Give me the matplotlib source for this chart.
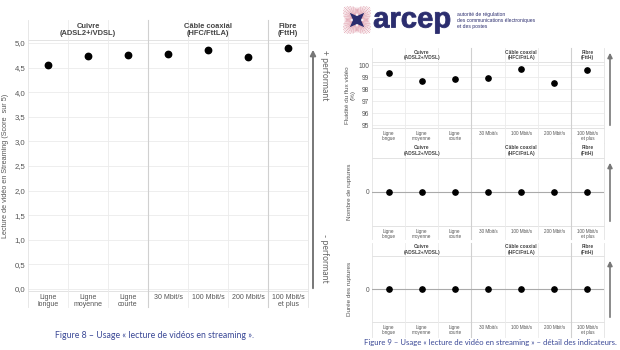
import matplotlib
matplotlib.use("Agg")
import math
import matplotlib.pyplot as plt
from matplotlib.patches import FancyArrowPatch, Polygon, PathPatch
from matplotlib.lines import Line2D
from matplotlib.textpath import TextPath
from matplotlib.font_manager import FontProperties
import matplotlib.transforms as mtransforms

W, H = 620, 350

# ---------------- data ----------------
groups = ["Cuivre\n(ADSL2+/VDSL)", "Câble coaxial\n(HFC/FttLA)", "Fibre\n(FttH)"]
group_first = [0, 3, 6]
group_last = [2, 5, 6]
categories = ["Ligne\nlongue", "Ligne\nmoyenne", "Ligne\ncourte",
              "30 Mbit/s", "100 Mbit/s", "200 Mbit/s", "100 Mbit/s\net plus"]
score = [4.55, 4.74, 4.76, 4.77, 4.85, 4.71, 4.90]
score_ticks = [0.0, 0.5, 1.0, 1.5, 2.0, 2.5, 3.0, 3.5, 4.0, 4.5, 5.0]
score_ticklabels = ["0,0", "0,5", "1,0", "1,5", "2,0", "2,5", "3,0", "3,5", "4,0", "4,5", "5,0"]
fluidite = [99.35, 98.7, 98.8, 98.9, 99.7, 98.5, 99.6]
fluidite_ticks = [95, 96, 97, 98, 99, 100]
nb_ruptures = [0, 0, 0, 0, 0, 0, 0]
duree_ruptures = [0, 0, 0, 0, 0, 0, 0]

caption8 = "Figure 8 – Usage « lecture de vidéos en streaming »."
caption9 = "Figure 9 – Usage « lecture de vidéo en streaming » – détail des indicateurs."

FONT = "Liberation Sans"
GRID = "#ebebeb"
DIV = "#d0d0d0"
TXT = "#555555"
CAPC = "#3a4896"
NAVY = "#2b2d6e"

fig = plt.figure(figsize=(W / 100, H / 100), dpi=100)
fig.patch.set_facecolor("white")


def rect(x0, y0, x1, y1):
    return [x0 / W, 1 - y1 / H, (x1 - x0) / W, (y1 - y0) / H]


def fx(x):
    return x / W


def fy(y):
    return 1 - y / H


def facet(x0, x1, strip_top, plot_top, plot_bot, lab_bot, values, ylim, yticks,
          yticklabels, ylabel, ms, tick_fs, ytick_fs, strip_fs, ylab_fs, ylab_pad,
          zero_line=False):
    ax = fig.add_axes(rect(x0, plot_top, x1, plot_bot))
    ax.set_xlim(-0.5, 6.5)
    ax.set_ylim(*ylim)
    hpx = plot_bot - plot_top
    ext_top = 1 + (plot_top - strip_top) / hpx
    ext_bot = -(lab_bot - plot_bot) / hpx
    for s in ax.spines.values():
        s.set_visible(False)
    for t in yticks:
        ax.axhline(t, color=GRID, lw=0.6, zorder=0)
    if zero_line:
        ax.axhline(0, color="#aaaaaa", lw=0.8, zorder=1)
    ax.axhline(ylim[1], color="#e3e3e3", lw=0.7, zorder=0, clip_on=False)
    ax.axhline(ylim[0], color="#e3e3e3", lw=0.7, zorder=0, clip_on=False)
    for b in [-0.5, 0.5, 1.5, 2.5, 3.5, 4.5, 5.5, 6.5]:
        col = DIV if b in (2.5, 5.5) else ("#e3e3e3" if b in (-0.5, 6.5) else GRID)
        lw = 0.8 if b in (2.5, 5.5) else 0.6
        ax.axvline(b, ymin=ext_bot, ymax=ext_top, color=col, lw=lw, zorder=0, clip_on=False)
    ax.plot(range(len(values)), values, "o", color="black", ms=ms, zorder=3, clip_on=False)
    ax.set_xticks(range(len(categories)))
    ax.set_xticklabels(categories, fontsize=tick_fs, color=TXT, family=FONT, linespacing=1.1)
    ax.set_yticks(yticks)
    ax.set_yticklabels(yticklabels, fontsize=ytick_fs, color=TXT, family=FONT)
    ax.tick_params(length=0, pad=2)
    ax.set_ylabel(ylabel, fontsize=ylab_fs, color=TXT, family=FONT, labelpad=ylab_pad,
                  linespacing=1.1)
    trans = mtransforms.blended_transform_factory(ax.transData, ax.transAxes)
    ymid = 1 + (plot_top - strip_top) / hpx / 2
    for g, a, b in zip(groups, group_first, group_last):
        ax.text((a + b) / 2, ymid, g, transform=trans, ha="center", va="center",
                fontsize=strip_fs, fontweight="bold", color="#444444", family=FONT,
                linespacing=1.15)
    return ax


# ---------- left figure ----------
facet(28, 308, 20, 40, 291, 307, score, (-0.04, 5.06), score_ticks, score_ticklabels,
      "Lecture de vidéo en Streaming (Score  sur 5)", 4.6, 5.0, 5.6, 5.4, 5.2, 4)

fig.add_artist(FancyArrowPatch((fx(313), fy(291)), (fx(313), fy(47)),
                               transform=fig.transFigure, arrowstyle="-|>",
                               mutation_scale=8, color="#777777", lw=1.4))
fig.text(fx(325), fy(50), "+ performant", rotation=-90, ha="center", va="top",
         fontsize=6.2, color="#666666", family="Lato")
fig.text(fx(325), fy(283), "- performant", rotation=-90, ha="center", va="bottom",
         fontsize=6.2, color="#666666", family="Lato")
fig.text(fx(155), fy(335), caption8, ha="center", va="center", fontsize=6.3,
         color=CAPC, family="Lato")

# ---------- right figure ----------
facet(372, 604, 48, 62, 128, 143, fluidite, (94.75, 100.25), fluidite_ticks,
      [str(t) for t in fluidite_ticks], "Fluidité du flux vidéo\n(%)",
      3.8, 3.3, 4.8, 3.5, 4.6, 2)
facet(372, 604, 143, 158, 226, 239, nb_ruptures, (-1, 1), [0], ["0"],
      "Nombre de ruptures", 3.8, 3.3, 4.8, 3.5, 4.6, 10, zero_line=True)
facet(372, 604, 243, 256, 322, 337, duree_ruptures, (-1, 1), [0], ["0"],
      "Durée des ruptures", 3.8, 3.3, 4.8, 3.5, 4.6, 10, zero_line=True)

for ya, yb in [(128, 50), (224, 160), (320, 258)]:
    fig.add_artist(FancyArrowPatch((fx(610), fy(ya)), (fx(610), fy(yb)),
                                   transform=fig.transFigure, arrowstyle="-|>",
                                   mutation_scale=7, color="#777777", lw=1.2))

fig.text(fx(490), fy(343), caption9, ha="center", va="center", fontsize=5.6,
         color=CAPC, family="Lato")

# ---------- arcep logo ----------
lax = fig.add_axes(rect(339, 2, 375, 38))
lax.set_xlim(-1, 1)
lax.set_ylim(-1, 1)
lax.axis("off")
for d in (45, 135, 225, 315):
    base = math.radians(d)
    for k in range(-10, 11):
        a = base + math.radians(k * 5)
        r = 1.0 - abs(k) * 0.04
        lax.add_line(Line2D([0.2 * math.cos(base), r * math.cos(a)],
                            [0.2 * math.sin(base), r * math.sin(a)],
                            color="#e2a3b0" if k % 2 else "#c95a72", lw=0.3, alpha=0.85))
for k in range(24):
    a = math.radians(k * 15)
    lax.add_line(Line2D([0, 0.7 * math.cos(a)], [0, 0.7 * math.sin(a)],
                        color="#efc6cf", lw=0.25))
lax.add_patch(Polygon([(-0.4, 0.4), (0, 0.22), (0.4, 0.4), (0.22, 0), (0.4, -0.4),
                       (0, -0.22), (-0.4, -0.4), (-0.22, 0)], closed=True,
                      facecolor=NAVY, edgecolor="none", zorder=3))

# full-figure overlay in pixel coordinates for the word mark
oax = fig.add_axes([0, 0, 1, 1])
oax.set_xlim(0, W)
oax.set_ylim(H, 0)
oax.axis("off")
oax.patch.set_visible(False)
tp = TextPath((0, 0), "arcep", size=10, prop=FontProperties(family=FONT, weight="bold"))
ext = tp.get_extents()
sx = 76.0 / (ext.x1 - ext.x0)
sy = 15.5 / ext.y1
tr = mtransforms.Affine2D().scale(sx, -sy).translate(374 - ext.x0 * sx, 27.5)
oax.add_patch(PathPatch(tr.transform_path(tp), facecolor=NAVY, edgecolor=NAVY, lw=0.6))

fig.text(fx(457), fy(20.5), "autorité de régulation\ndes communications électroniques\net des postes",
         ha="left", va="center", fontsize=3.6, color=NAVY, family=FONT, linespacing=1.15)

fig.savefig("out.png", dpi=100, facecolor="white")
